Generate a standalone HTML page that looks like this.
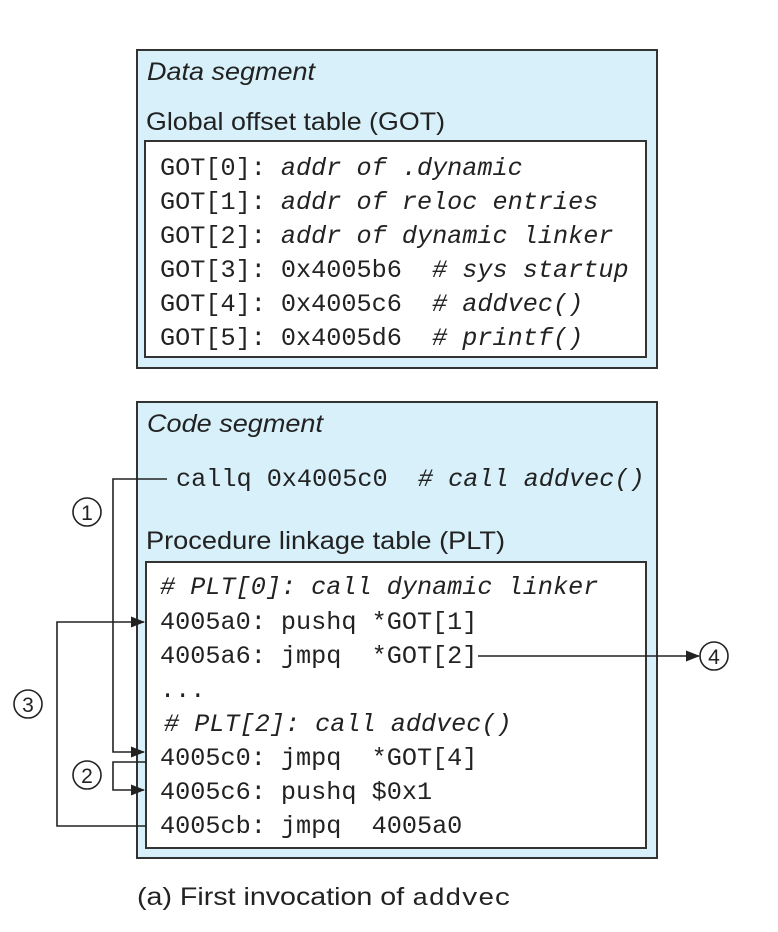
<!DOCTYPE html>
<html><head><meta charset="utf-8"><style>
html,body{margin:0;padding:0;background:#fff;}
svg{display:block;}
text{white-space:pre;}
.m{font-family:"Liberation Mono",monospace;font-size:25.2px;fill:#222;}
.i{font-style:italic;}
.s{font-family:"Liberation Sans",sans-serif;font-size:25px;fill:#222;}
</style></head><body>
<svg width="778" height="932" viewBox="0 0 778 932" xmlns="http://www.w3.org/2000/svg" xml:space="preserve">
<defs><marker id="a" markerWidth="14" markerHeight="14" refX="13" refY="7" orient="auto" markerUnits="userSpaceOnUse"><path d="M0,1.5 L14,7 L0,12.5 z" fill="#222"/></marker></defs>
<rect x="137" y="50" width="520" height="318" fill="#d7f0fa" stroke="#333" stroke-width="2"/>
<text x="147" y="80" class="s i" textLength="168" lengthAdjust="spacingAndGlyphs">Data segment</text>
<text x="146" y="130" class="s" textLength="299" lengthAdjust="spacingAndGlyphs">Global offset table (GOT)</text>
<rect x="145" y="141" width="501" height="216" fill="#fff" stroke="#333" stroke-width="2"/>
<g class="m">
<text x="160" y="175">GOT[0]: <tspan class="i">addr of .dynamic</tspan></text>
<text x="160" y="209">GOT[1]: <tspan class="i">addr of reloc entries</tspan></text>
<text x="160" y="243">GOT[2]: <tspan class="i">addr of dynamic linker</tspan></text>
<text x="160" y="277">GOT[3]: 0x4005b6  <tspan class="i"># sys startup</tspan></text>
<text x="160" y="311">GOT[4]: 0x4005c6  <tspan class="i"># addvec()</tspan></text>
<text x="160" y="345">GOT[5]: 0x4005d6  <tspan class="i"># printf()</tspan></text>
</g>
<rect x="137" y="402" width="520" height="456" fill="#d7f0fa" stroke="#333" stroke-width="2"/>
<text x="147" y="432" class="s i" textLength="176" lengthAdjust="spacingAndGlyphs">Code segment</text>
<text x="176" y="486" class="m">callq 0x4005c0  <tspan class="i"># call addvec()</tspan></text>
<text x="146" y="549" class="s" textLength="359" lengthAdjust="spacingAndGlyphs">Procedure linkage table (PLT)</text>
<rect x="146" y="562" width="500" height="286" fill="#fff" stroke="#333" stroke-width="2"/>
<g class="m">
<text x="160" y="594" class="i"># PLT[0]: call dynamic linker</text>
<text x="160" y="629">4005a0: pushq *GOT[1]</text>
<text x="160" y="663">4005a6: jmpq  *GOT[2]</text>
<text x="160" y="697">...</text>
<text x="164" y="731" class="i"># PLT[2]: call addvec()</text>
<text x="160" y="765">4005c0: jmpq  *GOT[4]</text>
<text x="160" y="799">4005c6: pushq $0x1</text>
<text x="160" y="833">4005cb: jmpq  4005a0</text>
</g>
<g fill="none" stroke="#222" stroke-width="1.6">
<polyline points="167,479 113,479 113,752 144,752" marker-end="url(#a)"/>
<polyline points="146,762 113,762 113,790 144,790" marker-end="url(#a)"/>
<polyline points="146,826 57,826 57,622 144,622" marker-end="url(#a)"/>
<polyline points="478,656 699,656" marker-end="url(#a)"/>
<circle cx="87" cy="512" r="14"/>
<circle cx="87" cy="775" r="14"/>
<circle cx="28" cy="704" r="14"/>
<circle cx="714" cy="656" r="14"/>
</g>
<g font-family="Liberation Sans,sans-serif" font-size="21" fill="#222" text-anchor="middle">
<text x="87" y="520">1</text>
<text x="87" y="783">2</text>
<text x="28" y="712">3</text>
<text x="714" y="664">4</text>
</g>
<text x="137" y="905" class="s" textLength="374" lengthAdjust="spacingAndGlyphs">(a) First invocation of <tspan font-family="Liberation Mono,monospace" font-size="24">addvec</tspan></text>
</svg>
</body></html>
